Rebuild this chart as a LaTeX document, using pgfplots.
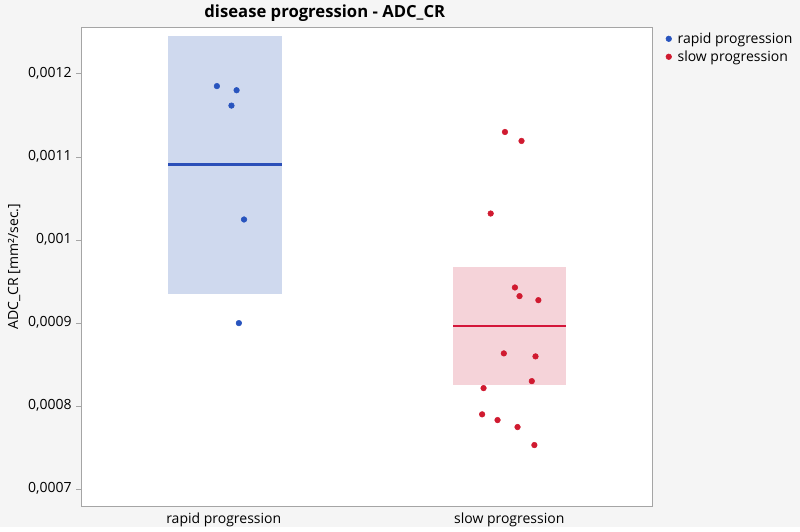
\documentclass[border=0pt]{standalone}
\usepackage{fontspec}
\setmainfont{Open Sans}
\usepackage{pgfplots}
\pgfplotsset{compat=1.18}
\definecolor{bgray}{RGB}{245,245,245}
\definecolor{framegray}{RGB}{165,165,165}
\definecolor{bluept}{RGB}{40,84,190}
\definecolor{bluefill}{RGB}{207,217,238}
\definecolor{blueline}{RGB}{43,79,184}
\definecolor{redpt}{RGB}{208,26,48}
\definecolor{redfill}{RGB}{245,211,217}
\definecolor{redline}{RGB}{212,22,58}
\begin{document}
\begin{tikzpicture}
\fill[bgray] (-60.75pt,-15.75pt) rectangle (539.25pt,379.5pt);
\begin{axis}[
 at={(0,0)}, anchor=south west, scale only axis,
 width=428.25pt, height=359.25pt,
 xmin=-0.5, xmax=1.5, ymin=0.000679, ymax=0.001256,
 xtick={0,1}, xticklabels={rapid progression, slow progression},
 ytick={0.0007,0.0008,0.0009,0.001,0.0011,0.0012},
 scaled y ticks=false,
 yticklabel style={/pgf/number format/.cd, fixed, precision=4, use comma},
 /pgf/number format/assume math mode=true,
 axis line style={draw=framegray},
 tick align=outside, major tick length=3.5pt,
 tick style={framegray},
 xtick style={draw=none},
 ytick pos=left, xtick pos=bottom,
 axis background/.style={fill=white},
 font=\fontsize{10.5pt}{12.5pt}\selectfont,
 title={\textbf{disease progression - ADC\_CR}},
 title style={font=\fontsize{12.5pt}{14pt}\selectfont, at={(0.427,1)}, yshift=-5pt},
 ylabel={ADC\_CR [mm²/sec.]},
 ylabel style={yshift=-1pt},
 xticklabel style={yshift=2pt},
 legend style={at={(1.024,0.995)}, anchor=north west, draw=none, fill=none,
   font=\fontsize{10.5pt}{12.5pt}\selectfont, row sep=0pt, inner sep=0pt,
   nodes={inner xsep=4.5pt}},
 legend cell align=left,
]
% boxes (mean and spread)
\addplot[fill=bluefill, draw=none, forget plot] coordinates {(-0.195,0.000934) (0.205,0.000934) (0.205,0.0012453) (-0.195,0.0012453)} -- cycle;
\addplot[fill=redfill, draw=none, forget plot] coordinates {(0.803,0.0008248) (1.2,0.0008248) (1.2,0.0009672) (0.803,0.0009672)} -- cycle;
\addplot[blueline, line width=1.6pt, forget plot] coordinates {(-0.195,0.0010905) (0.205,0.0010905)};
\addplot[redline, line width=1.6pt, forget plot] coordinates {(0.803,0.0008962) (1.2,0.0008962)};
% points
\addplot[only marks, mark=*, mark size=2.1pt, color=bluept] coordinates {
(-0.024,0.001185) (0.045,0.001180) (0.027,0.0011615) (0.071,0.0010243) (0.053,0.0008995)};
\addlegendentry{rapid progression}
\addplot[only marks, mark=*, mark size=2.1pt, color=redpt] coordinates {
(0.985,0.0011297) (1.043,0.0011189) (0.935,0.0010315)
(1.020,0.0009424) (1.036,0.0009320) (1.102,0.0009271)
(0.981,0.0008630) (1.092,0.0008594) (1.079,0.0008296)
(0.910,0.0008212) (0.905,0.0007896) (0.959,0.0007827)
(1.029,0.0007743) (1.088,0.0007526)};
\addlegendentry{slow progression}
\end{axis}
\end{tikzpicture}
\end{document}
